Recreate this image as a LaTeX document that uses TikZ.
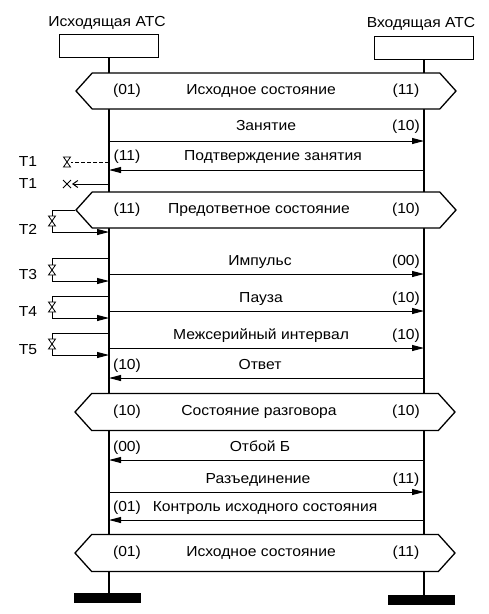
\documentclass[tikz,border=0pt]{standalone}
\usepackage{fontspec}
\setmainfont[FakeStretch=1.08]{Liberation Sans}
\usetikzlibrary{arrows.meta,shapes.symbols}
\tikzset{
  lbl/.style={inner sep=0pt,text height=10pt,text depth=2.5pt},
  box/.style={draw,line width=1.2pt,minimum width=99pt,minimum height=23pt,inner sep=0pt},
  bar/.style={fill=black,minimum width=67pt,minimum height=10pt,inner sep=0pt},
  life/.style={line width=1.5pt},
  state/.style={draw,fill=white,line width=1.3pt,signal,signal to=west and east,
    signal pointer angle=96,minimum width=380pt,minimum height=36pt,inner sep=0pt},
  msg/.style={line width=1pt,-{Triangle[length=12pt,width=6pt]}},
  tline/.style={line width=1pt},
  valve/.pic={\draw[line width=0.8pt,fill=white] (-3.5,-5) -- (3.5,-5) -- (-3.5,5) -- (3.5,5) -- cycle;}
}
\begin{document}
\begin{tikzpicture}[x=1pt,y=-1pt,font=\fontsize{14.5}{16}\selectfont]
\useasboundingbox (0,0) rectangle (488,614);

\node[lbl] (toutname) at (107,23) {Исходящая АТС};
\node[lbl] (tinname) at (421,24) {Входящая АТС};
\node[box] (out) at (109,46) {};
\node[box] (in) at (424,48) {};
\node[bar] (outend) at (107,598) {};
\node[bar] (inend) at (421,600) {};
\draw[life] (out.south) -- (out.south |- outend.north);
\draw[life] (in.south) -- (in.south |- inend.north);

\node[state] (s1) at (266,91) {};
\node[lbl] (s1l) at (127,91) {(01)};
\node[lbl] (s1t) at (261,91) {Исходное состояние};
\node[lbl] (s1r) at (406,91) {(11)};

\node[lbl] (m1) at (266,127) {Занятие};
\node[lbl] (m1c) at (406,127) {(10)};
\draw[msg] (out |- 0,141) -- (in |- 0,141);

\node[lbl] (m2) at (273,157) {Подтверждение занятия};
\node[lbl] (m2c) at (127,157) {(11)};
\draw[msg] (in |- 0,170) -- (out |- 0,170);

\node[lbl] (t1a) at (28,163) {T1};
\draw[tline,dash pattern=on 4pt off 2pt] (out |- 0,162) -- (71,162);
\pic at (67,162) {valve};
\node[lbl] (t1b) at (28,185) {T1};
\draw[tline,-{Straight Barb[length=5pt,width=7pt]}] (out |- 0,184) -- (72,184);
\draw[tline] (63,180) -- (71,188) (63,188) -- (71,180);

\node[state] (s2) at (266,210) {};
\node[lbl] (s2l) at (127,210) {(11)};
\node[lbl] (s2t) at (259,210) {Предответное состояние};
\node[lbl] (s2r) at (406,210) {(10)};

\node[lbl] (t2) at (28,231) {T2};
\draw[tline] (s2.west) -- (52,210) -- (52,232);
\draw[msg] (52,232) -- (out |- 0,232);
\pic at (52,221) {valve};

\node[lbl] (m3) at (260,262) {Импульс};
\node[lbl] (m3c) at (406,262) {(00)};
\draw[msg] (out |- 0,274) -- (in |- 0,274);
\node[lbl] (t3) at (28,276) {T3};
\draw[tline] (out |- 0,258) -- (52,258) -- (52,281);
\draw[msg] (52,281) -- (out |- 0,281);
\pic at (52,270) {valve};

\node[lbl] (m4) at (261,299) {Пауза};
\node[lbl] (m4c) at (406,299) {(10)};
\draw[msg] (out |- 0,311) -- (in |- 0,311);
\node[lbl] (t4) at (28,313) {T4};
\draw[tline] (out |- 0,296) -- (52,296) -- (52,318);
\draw[msg] (52,318) -- (out |- 0,318);
\pic at (52,307) {valve};

\node[lbl] (m5) at (261,336) {Межсерийный интервал};
\node[lbl] (m5c) at (406,336) {(10)};
\draw[msg] (out |- 0,348) -- (in |- 0,348);
\node[lbl] (t5) at (28,351) {T5};
\draw[tline] (out |- 0,333) -- (52,333) -- (52,355);
\draw[msg] (52,355) -- (out |- 0,355);
\pic at (52,344) {valve};

\node[lbl] (m6) at (260,366) {Ответ};
\node[lbl] (m6c) at (127,366) {(10)};
\draw[msg] (in |- 0,378) -- (out |- 0,378);

\node[state,minimum height=37pt] (s3) at (265,412) {};
\node[lbl] (s3l) at (127,412) {(10)};
\node[lbl] (s3t) at (259,412) {Состояние разговора};
\node[lbl] (s3r) at (406,412) {(10)};

\node[lbl] (m7) at (260,448) {Отбой Б};
\node[lbl] (m7c) at (127,448) {(00)};
\draw[msg] (in |- 0,460) -- (out |- 0,460);

\node[lbl] (m8) at (258,480) {Разъединение};
\node[lbl] (m8c) at (406,480) {(11)};
\draw[msg] (out |- 0,492) -- (in |- 0,492);

\node[lbl] (m9) at (265,508) {Контроль исходного состояния};
\node[lbl] (m9c) at (127,508) {(01)};
\draw[msg] (in |- 0,520) -- (out |- 0,520);

\node[state,minimum height=37pt] (s4) at (265,553) {};
\node[lbl] (s4l) at (127,553) {(01)};
\node[lbl] (s4t) at (261,553) {Исходное состояние};
\node[lbl] (s4r) at (406,553) {(11)};
\end{tikzpicture}
\end{document}
